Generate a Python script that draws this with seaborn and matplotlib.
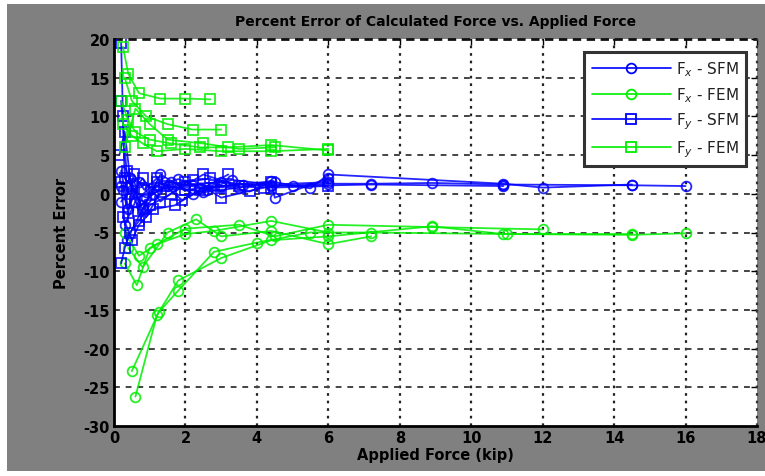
import numpy as np
import pandas as pd
import matplotlib
matplotlib.use("Agg")
import matplotlib.pyplot as plt
from matplotlib.lines import Line2D
from matplotlib.patches import Rectangle
import seaborn as sns

# ---------------- data ----------------
series_names = ["Fx - SFM", "Fx - FEM", "Fy - SFM", "Fy - FEM"]
legend_labels = ["F$_x$ - SFM", "F$_x$ - FEM", "F$_y$ - SFM", "F$_y$ - FEM"]

fx_sfm_force = [
    [0.2, 0.4, 0.7, 1.2, 2.0, 3.0, 4.4, 6.0, 7.2, 8.9, 10.9, 14.5, 16.0],
    [0.2, 0.5, 0.9, 1.5, 2.5, 3.5, 4.5, 5.5, 6.0, 10.9, 12.0, 14.5],
    [0.3, 0.6, 1.0, 1.8, 2.6, 3.3, 4.4, 6.0],
    [0.2, 0.35, 0.8, 1.3, 2.2, 3.0, 4.4, 4.5, 6.0],
    [0.25, 0.45, 0.75, 1.1, 1.6, 2.4, 3.6, 5.0, 7.2, 10.9],
]
fx_sfm_error = [
    [3.0, -2.0, 1.5, 0.5, 1.2, 1.5, 1.0, 1.3, 1.3, 1.4, 1.2, 1.1, 1.0],
    [-1.0, 0.5, -0.5, 1.0, 0.2, 0.8, 1.5, 0.7, 2.5, 1.3, 0.8, 1.2],
    [-4.0, -1.0, 0.8, 1.9, 0.5, 1.8, 1.2, 1.5],
    [1.0, -6.0, -2.0, 2.5, 0.0, 1.0, 1.6, -0.5, 2.0],
    [0.5, 2.0, -1.5, 0.0, 1.5, 0.8, 1.2, 1.0, 1.2, 1.0],
]

fx_fem_force = [
    [0.6, 1.2, 1.8, 3.0, 4.4, 6.0, 8.9, 10.9, 14.5, 16.0],
    [0.5, 1.25, 1.8, 2.8, 4.0, 5.5, 7.2, 11.0, 14.5],
    [0.3, 0.64, 1.0, 2.0, 3.5, 4.5, 6.0, 8.9, 12.0],
    [0.4, 0.8, 1.5, 2.3, 3.0, 4.4, 6.0, 7.2],
    [0.3, 0.7, 1.2, 2.0, 2.8, 4.4, 6.0],
]
fx_fem_error = [
    [-26.2, -15.7, -11.2, -8.3, -6.0, -5.5, -4.2, -5.2, -5.3, -5.1],
    [-22.9, -15.3, -12.5, -7.5, -6.3, -5.0, -5.0, -5.2, -5.2],
    [-9.0, -11.8, -7.0, -4.5, -4.0, -5.5, -4.0, -4.3, -4.6],
    [-7.0, -9.5, -5.0, -3.3, -5.5, -4.8, -6.5, -5.5],
    [-5.0, -8.0, -6.5, -5.2, -4.8, -3.5, -5.0],
]

fy_sfm_force = [
    [0.2, 0.25, 0.3, 0.5, 0.8, 1.2, 2.0, 3.0, 4.4, 6.0],
    [0.2, 0.3, 0.45, 0.7, 1.0, 1.6, 2.5, 3.5],
    [0.15, 0.3, 0.5, 0.8, 1.3, 2.0, 2.7],
    [0.2, 0.35, 0.6, 0.9, 1.4, 2.2, 3.0, 4.2],
    [0.25, 0.5, 0.7, 1.1, 1.7, 2.4, 3.2],
    [0.2, 0.4, 0.55, 0.85, 1.2, 1.9, 2.8, 3.8, 4.4],
]
fy_sfm_error = [
    [19.5, 10.0, 2.0, 1.0, -2.0, 1.5, 0.5, 1.0, 0.8, 1.0],
    [-9.0, -7.0, -5.0, -3.5, -1.5, 0.0, 2.5, 1.0],
    [5.0, 8.0, 0.0, 2.0, -1.0, 1.5, 2.0],
    [12.0, 3.0, -1.0, -3.0, 1.0, 1.8, -0.5, 0.8],
    [-3.0, -6.0, -4.0, -2.0, -1.5, 0.5, 2.5],
    [1.5, -2.5, 2.5, 0.5, 2.0, -0.8, 1.2, 0.3, 1.5],
]

fy_fem_force = [
    [0.25, 0.4, 0.7, 1.3, 2.0, 2.7],
    [0.3, 0.5, 0.9, 1.5, 2.2, 3.0],
    [0.2, 0.4, 0.6, 1.0, 1.6, 2.4, 3.2, 4.4, 6.0],
    [0.25, 0.5, 0.8, 1.2, 2.0, 3.0, 4.4, 6.0],
    [0.3, 0.6, 1.0, 1.5, 2.5, 3.5, 4.5],
]
fy_fem_error = [
    [19.0, 15.5, 13.0, 12.3, 12.3, 12.2],
    [15.0, 12.0, 10.0, 9.0, 8.3, 8.3],
    [12.0, 9.5, 8.0, 7.0, 6.5, 6.0, 6.0, 6.3, 5.6],
    [9.0, 7.5, 6.5, 5.5, 5.8, 5.5, 5.5, 5.8],
    [6.0, 11.0, 9.0, 7.0, 6.5, 5.8, 6.0],
]

x_ticks = [0, 2, 4, 6, 8, 10, 12, 14, 16, 18]
y_ticks = [-30, -25, -20, -15, -10, -5, 0, 5, 10, 15, 20]

# ---------------- build table ----------------
rows = []
groups = [
    ("Fx - SFM", fx_sfm_force, fx_sfm_error),
    ("Fx - FEM", fx_fem_force, fx_fem_error),
    ("Fy - SFM", fy_sfm_force, fy_sfm_error),
    ("Fy - FEM", fy_fem_force, fy_fem_error),
]
for name, forces, errors in groups:
    for k, (fs, es) in enumerate(zip(forces, errors)):
        for i, (f, e) in enumerate(zip(fs, es)):
            rows.append({"force": f, "error": e, "series": name,
                         "unit": f"{name}-{k}", "order": i})
df = pd.DataFrame(rows)

BLUE = "#0000FF"
GREEN = "#00EE00"
palette = {"Fx - SFM": BLUE, "Fx - FEM": GREEN, "Fy - SFM": BLUE, "Fy - FEM": GREEN}
markers = {"Fx - SFM": "o", "Fx - FEM": "o", "Fy - SFM": "s", "Fy - FEM": "s"}

# ---------------- figure ----------------
sns.set_style("white")
plt.rcParams["font.family"] = ["DejaVu Sans"]
plt.rcParams["text.color"] = "black"
plt.rcParams["axes.labelcolor"] = "black"
plt.rcParams["xtick.color"] = "black"
plt.rcParams["ytick.color"] = "black"

W, H = 765, 477
fig = plt.figure(figsize=(W / 100, H / 100), dpi=100)
fig.patch.set_facecolor("white")
bg = Rectangle((7 / W, 1 - 472 / H), (W - 7) / W, (472 - 5) / H,
               transform=fig.transFigure, facecolor="#808080",
               edgecolor="none", zorder=-10)
fig.add_artist(bg)

ax = fig.add_axes([114 / W, 1 - 427 / H, (757 - 114) / W, (427 - 40) / H])
ax.set_zorder(1)
ax.set_facecolor("white")

sns.lineplot(data=df, x="force", y="error", hue="series", style="series",
             units="unit", estimator=None, sort=False, palette=palette,
             markers=markers, dashes=False, legend=False, ax=ax,
             linewidth=1.3, markersize=7, mfc="none", mec=None, mew=1.3,
             alpha=0.85, hue_order=series_names, style_order=series_names)

ax.set_xlim(0, 18)
ax.set_ylim(-30, 20)
ax.set_xticks(x_ticks)
ax.set_yticks(y_ticks)
ax.set_xticklabels([str(t) for t in x_ticks], fontsize=10.5, fontweight="heavy",
                   color="black")
ax.set_yticklabels([str(t) for t in y_ticks], fontsize=10.5, fontweight="heavy",
                   color="black")

# grid
for xv in x_ticks[1:-1]:
    ax.axvline(xv, color="#222222", linestyle=(0, (1.2, 2.2)), linewidth=1.6, zorder=0.5)
for yv in y_ticks[1:-1]:
    ax.axhline(yv, color="#444444", linestyle=(0, (3, 3)), linewidth=1.4, zorder=0.5)
ax.axhline(20, color="#111111", linestyle=(0, (3, 2)), linewidth=2.0, zorder=0.6, clip_on=False)
ax.axvline(18, color="#333333", linestyle=(0, (1.2, 2.2)), linewidth=1.6, zorder=0.6, clip_on=False)

ax.tick_params(direction="in", length=4, width=1, top=True, right=True,
               colors="black", labelcolor="black", pad=3)
for side in ["left", "bottom"]:
    ax.spines[side].set_color("black")
    ax.spines[side].set_linewidth(2.0)
for side in ["top", "right"]:
    ax.spines[side].set_visible(False)

ax.set_xlabel("Applied Force (kip)", fontsize=10.5, fontweight="heavy",
              labelpad=1, color="black")
ax.set_ylabel("Percent Error", fontsize=10.5, fontweight="heavy",
              labelpad=10, color="black")
ax.set_title("Percent Error of Calculated Force vs. Applied Force",
             fontsize=10, fontweight="heavy", pad=10, color="black")

handles = [Line2D([0], [0], color=palette[s], marker=markers[s], mfc="none",
                  mec=palette[s], mew=1.3, markersize=7, linewidth=1.2)
           for s in series_names]
leg = ax.legend(handles, legend_labels, loc="upper right",
                bbox_to_anchor=(0.988, 0.975), fontsize=11, frameon=True,
                fancybox=False, edgecolor="#333333", framealpha=1,
                handlelength=5.2, labelspacing=0.45, borderpad=0.5,
                handletextpad=0.3, borderaxespad=0.2)
leg.get_frame().set_linewidth(2.2)
for t in leg.get_texts():
    t.set_color("#222222")

fig.savefig("out.png", dpi=100, facecolor=fig.get_facecolor())
